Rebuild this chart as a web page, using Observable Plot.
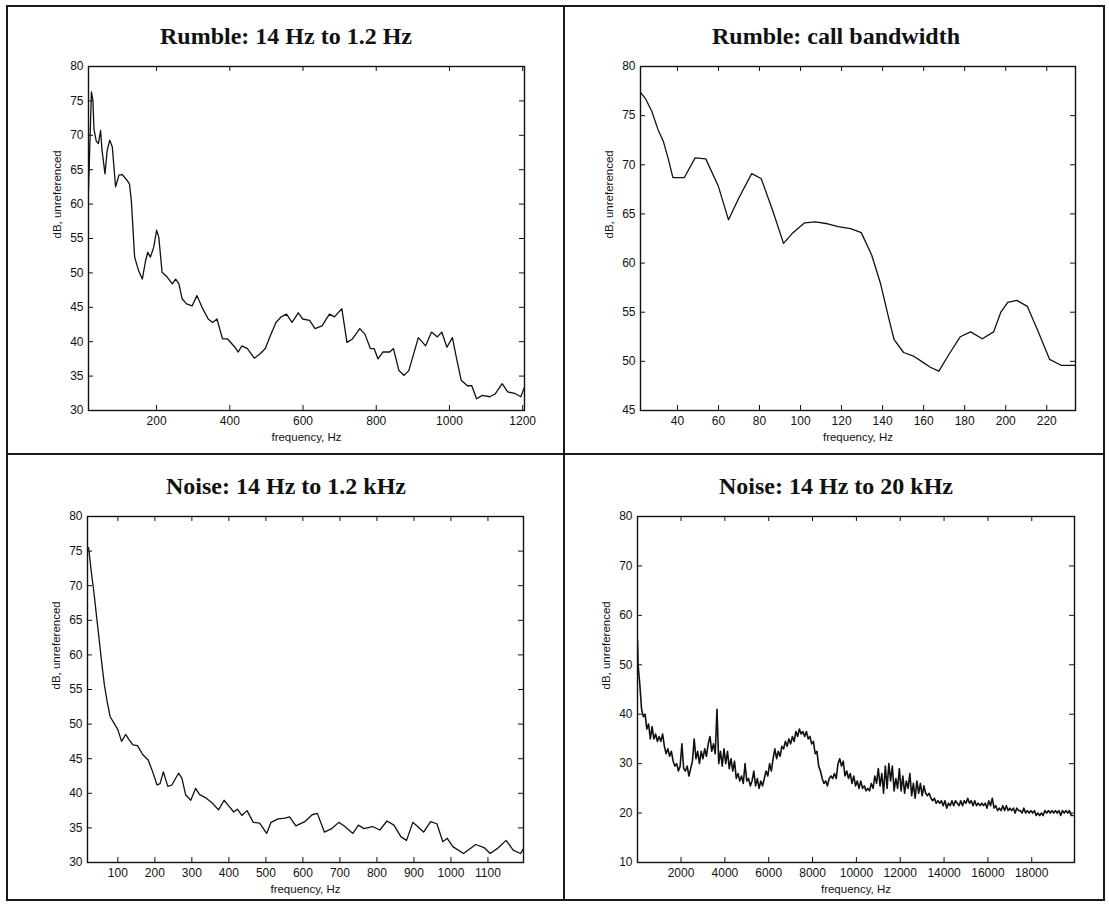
<!DOCTYPE html>
<html>
<head>
<meta charset="utf-8">
<script src="https://cdn.jsdelivr.net/npm/d3@7"></script>
<script src="https://cdn.jsdelivr.net/npm/@observablehq/plot@0.6"></script>
<style>
  html, body { margin: 0; padding: 0; background: #fff; }
  #root { position: relative; width: 1109px; height: 904px; background: #fff; overflow: hidden; }
  .cell { position: absolute; }
  .title { position: absolute; font-family: "Liberation Serif", "Times New Roman", serif; font-weight: bold; font-size: 24px; color: #111; text-align: center; white-space: nowrap; transform: translateX(-50%); line-height: 1; }
  .rule { position: absolute; background: #1a1a1a; }
</style>
</head>
<body>
<div id="root"></div>
<script>
// ---------- DATA ----------
const titles = ["Rumble: 14 Hz to 1.2 Hz", "Rumble: call bandwidth", "Noise: 14 Hz to 1.2 kHz", "Noise: 14 Hz to 20 kHz"];
const xAxisLabel = "frequency, Hz";
const yAxisLabel = "dB, unreferenced";

// Panel 1: Rumble 14 Hz to 1.2 kHz
const rumbleHz = [14, 22, 26, 29, 35, 41, 47, 51, 59, 65, 72, 79, 88, 97, 106, 120, 126, 131, 140, 151, 161, 170, 176, 183, 192, 200, 206, 215, 229, 243, 252, 261, 270, 282, 297, 310, 326, 341, 353, 365, 380, 394, 414, 423, 433, 448, 467, 482, 497, 511, 526, 540, 555, 570, 587, 599, 618, 633, 652, 672, 686, 706, 720, 735, 755, 769, 784, 794, 805, 818, 837, 847, 862, 876, 889, 915, 935, 951, 967, 979, 993, 1008, 1017, 1032, 1049, 1061, 1074, 1090, 1110, 1125, 1144, 1159, 1178, 1195, 1205];
const rumbleDb = [62, 76.3, 75.1, 70.9, 69.2, 68.8, 70.7, 67.8, 64.4, 67.8, 69.3, 68.3, 62.5, 64.2, 64.3, 63.4, 62.9, 60.5, 52.3, 50.3, 49.1, 51.8, 53, 52.3, 53.7, 56.2, 55.2, 50.1, 49.4, 48.4, 49.1, 48.4, 46.2, 45.5, 45.2, 46.7, 44.8, 43.3, 42.8, 43.3, 40.4, 40.4, 39.2, 38.5, 39.4, 39.0, 37.6, 38.2, 39.0, 40.9, 42.8, 43.6, 44.0, 42.8, 44.2, 43.3, 43.1, 41.9, 42.3, 44.0, 43.6, 44.8, 39.9, 40.4, 41.9, 41.1, 39.0, 39.0, 37.5, 38.5, 38.5, 39.0, 35.8, 35.1, 35.8, 40.6, 39.4, 41.4, 40.7, 41.4, 39.2, 40.6, 38.2, 34.4, 33.6, 33.6, 31.7, 32.2, 32.0, 32.4, 33.9, 32.7, 32.5, 32.0, 33.4];

// Panel 2: Rumble call bandwidth
const callHz = [22.3, 24.5, 27.4, 30.5, 33.1, 35.4, 37.8, 40, 43.4, 48.6, 53.8, 59.8, 64.9, 70.1, 76.2, 80.8, 86.5, 91.7, 95.9, 102, 107.2, 113.2, 118.3, 124.4, 129.6, 134.7, 139, 142.5, 145.6, 150.2, 155.4, 159.7, 163.2, 167.4, 172.6, 177.8, 182.9, 188.6, 194.1, 197.6, 201, 205.4, 210.5, 215.7, 221.4, 226.9, 233.8];
const callDb = [77.3, 76.7, 75.5, 73.6, 72.4, 70.7, 68.7, 68.7, 68.7, 70.7, 70.6, 67.9, 64.4, 66.7, 69.1, 68.6, 65.3, 62.0, 63.0, 64.1, 64.2, 64.0, 63.7, 63.5, 63.1, 60.8, 57.9, 54.8, 52.2, 50.9, 50.5, 49.9, 49.4, 49.0, 50.8, 52.5, 53.0, 52.3, 53.0, 55.0, 56.0, 56.2, 55.6, 53.1, 50.2, 49.6, 49.6];

// Panel 3: Noise 14 Hz to 1.2 kHz
const noiseHz = [21, 28, 35, 42, 50, 57, 63.5, 71, 79, 90, 100, 110, 121, 131, 140.5, 153, 167, 182, 194, 206, 214, 223, 235, 246, 264, 273, 283, 297, 310, 321, 339, 355, 372, 387, 398, 413, 423, 435, 449, 466, 483, 502, 514, 533, 552, 564, 581, 605, 625, 639, 658, 678, 697, 711, 735, 750, 765, 788, 808, 827, 846, 865, 880, 897, 910, 926, 945, 962, 978, 990, 1005, 1034, 1067, 1091, 1106, 1125, 1149, 1168, 1188, 1196];
const noiseDb = [75.5, 72.1, 69.2, 65.8, 62.0, 58.6, 55.7, 53.3, 51.1, 50.1, 49.2, 47.5, 48.5, 47.7, 47.0, 46.9, 45.6, 44.8, 43.1, 41.2, 41.4, 43.1, 41.0, 41.2, 42.9, 42.2, 39.8, 39.0, 40.7, 39.8, 39.3, 38.6, 37.6, 39.0, 38.3, 37.3, 37.7, 36.8, 37.5, 35.8, 35.7, 34.2, 35.8, 36.3, 36.4, 36.6, 35.3, 35.9, 36.9, 37.1, 34.4, 34.9, 35.8, 35.3, 34.2, 35.4, 34.9, 35.2, 34.7, 36.0, 35.4, 33.7, 33.2, 35.8, 35.2, 34.4, 35.9, 35.6, 33.0, 33.5, 32.3, 31.3, 32.6, 32.1, 31.3, 32.0, 33.2, 31.8, 31.3, 32.0];

// Panel 4: Noise 14 Hz to 20 kHz (first bin at 14 Hz, then bins every 80 Hz from 40 Hz)
const wideFirstHz = 14;
const wideBinStartHz = 40;
const wideBinStepHz = 80;
const wideDb = [55,
 50, 46, 41, 39.5, 40, 37, 38, 35, 37.5, 35, 36, 34.5, 35.5, 34.5, 36, 33.5, 32, 33, 31.5, 32.5,
 30.5, 29.5, 30, 28.5, 29.5, 34, 29, 28.5, 29.5, 27.5, 29, 30.5, 35, 31, 32.5, 30, 32.5, 31, 33, 31.5,
 34, 35.5, 32.5, 34, 32, 41, 30, 32.5, 29.5, 33, 30, 32.5, 29, 31, 28.5, 30.5, 27, 28, 26.5, 27.5,
 26, 30, 26.5, 27, 25.5, 26.5, 28.5, 25.5, 27, 25, 26.5, 25.5, 27, 28.5, 27.5, 30, 28.5, 31, 33, 31,
 32.5, 31.5, 33.5, 33, 34.5, 33.5, 35, 34, 35.5, 34.5, 36.5, 35.5, 37, 36, 36.5, 35.5, 36.5, 35, 35.5, 34,
 34.5, 32, 32.5, 29.5, 28.5, 27, 26, 26.5, 25.5, 27, 27.5, 27, 28, 27, 30, 31, 29.5, 30.5, 27.5, 28.5,
 27, 28, 26, 27.5, 25.5, 26.5, 25, 26.5, 25, 25.5, 24.5, 25, 24.5, 26, 25, 27.5, 26, 29, 25.5, 28,
 24, 29.5, 25, 30, 26.5, 29.5, 24.5, 27, 25, 29, 24.5, 27.5, 24, 26.5, 25, 28, 23.5, 26, 23, 26.5,
 24, 26, 23.5, 25.5, 24, 23.5, 24, 23, 22.5, 23, 22, 22.5, 22, 22.5, 21.5, 22.5, 21, 22, 21.5, 22.5,
 21.5, 22.5, 22, 21.5, 22.5, 21.5, 22.5, 22, 23, 22, 22.5, 21.5, 22.5, 21.5, 22, 21.5, 22, 21.5, 22, 21,
 22.5, 21.5, 23, 21, 21.5, 20.5, 21, 20.5, 21.5, 20.5, 21.5, 20.5, 21, 20.5, 21, 20, 21, 20.5, 20.5, 20,
 21, 20, 20.5, 20, 20.5, 20, 20.5, 19.5, 20, 19.5, 20, 19.5, 20.5, 20, 20.5, 20, 20.5, 20, 20.5, 20,
 20.5, 19.5, 20.5, 20, 20.5, 20, 20.5, 19.5, 19.5];

// Axis ticks
const ticksX1 = [200, 400, 600, 800, 1000, 1200];
const ticksY1 = [30, 35, 40, 45, 50, 55, 60, 65, 70, 75, 80];
const ticksX2 = [40, 60, 80, 100, 120, 140, 160, 180, 200, 220];
const ticksY2 = [45, 50, 55, 60, 65, 70, 75, 80];
const ticksX3 = [100, 200, 300, 400, 500, 600, 700, 800, 900, 1000, 1100];
const ticksY3 = [30, 35, 40, 45, 50, 55, 60, 65, 70, 75, 80];
const ticksX4 = [2000, 4000, 6000, 8000, 10000, 12000, 14000, 16000, 18000];
const ticksY4 = [10, 20, 30, 40, 50, 60, 70, 80];

// ---------- BUILD ----------
const toRows = (xs, ys) => xs.map((x, i) => ({f: x, db: ys[i]}));
const wideRows = wideDb.map((v, i) => ({f: i === 0 ? wideFirstHz : wideBinStartHz + (i - 1) * wideBinStepHz, db: v}));

const FONT = "'Liberation Sans', Arial, Helvetica, sans-serif";

function panel({rows, xDomain, yDomain, xTicks, yTicks, width, height, ml, mr, mt, mb, lineWidth}) {
  const innerW = width - ml - mr;
  const innerH = height - mt - mb;
  const tk = 5;
  return Plot.plot({
    width, height,
    marginLeft: ml, marginRight: mr, marginTop: mt, marginBottom: mb,
    style: {background: "transparent", overflow: "visible", fontFamily: FONT, color: "#111"},
    x: {domain: xDomain, label: null},
    y: {domain: yDomain, label: null},
    marks: [
      Plot.axisX(xTicks, {anchor: "bottom", tickSize: 0, tickPadding: 6, fontSize: 12, tickFormat: d => String(d), label: null, fill: "#111"}),
      Plot.axisY(yTicks, {anchor: "left", tickSize: 0, tickPadding: 5, fontSize: 12, tickFormat: d => String(d), label: null, fill: "#111"}),
      Plot.tickX(xTicks, {x: d => d, insetTop: innerH - tk, stroke: "#111", strokeWidth: 1}),
      Plot.tickX(xTicks, {x: d => d, insetBottom: innerH - tk, stroke: "#111", strokeWidth: 1}),
      Plot.tickY(yTicks, {y: d => d, insetRight: innerW - tk, stroke: "#111", strokeWidth: 1}),
      Plot.tickY(yTicks, {y: d => d, insetLeft: innerW - tk, stroke: "#111", strokeWidth: 1}),
      Plot.line(rows, {x: "f", y: "db", stroke: "#111", strokeWidth: lineWidth, clip: true}),
      Plot.frame({stroke: "#111", strokeWidth: 1.4}),
      Plot.text([xAxisLabel], {frameAnchor: "bottom", dy: 30, text: d => d, fontSize: 11.5, fill: "#111"}),
      Plot.text([yAxisLabel], {frameAnchor: "left", dx: -31, rotate: -90, text: d => d, fontSize: 11.5, fill: "#111"})
    ]
  });
}

const root = document.getElementById("root");
function place(node, left, top) {
  const d = document.createElement("div");
  d.className = "cell";
  d.style.left = left + "px";
  d.style.top = top + "px";
  d.appendChild(node);
  root.appendChild(d);
}
function title(text, cx, top) {
  const t = document.createElement("div");
  t.className = "title";
  t.textContent = text;
  t.style.left = cx + "px";
  t.style.top = top + "px";
  root.appendChild(t);
}

place(panel({rows: toRows(rumbleHz, rumbleDb), xDomain: [14, 1205], yDomain: [30, 80], xTicks: ticksX1, yTicks: ticksY1,
  width: 560, height: 400, ml: 88, mr: 36, mt: 16, mb: 40, lineWidth: 1.3}), 0, 50);
place(panel({rows: toRows(callHz, callDb), xDomain: [22, 234], yDomain: [45, 80], xTicks: ticksX2, yTicks: ticksY2,
  width: 540, height: 400, ml: 76, mr: 29, mt: 16, mb: 40, lineWidth: 1.3}), 564, 50);
place(panel({rows: toRows(noiseHz, noiseDb), xDomain: [18, 1196], yDomain: [30, 80], xTicks: ticksX3, yTicks: ticksY3,
  width: 560, height: 400, ml: 87, mr: 37, mt: 16, mb: 38, lineWidth: 1.3}), 0, 500);
place(panel({rows: wideRows, xDomain: [14, 19950], yDomain: [10, 80], xTicks: ticksX4, yTicks: ticksY4,
  width: 540, height: 400, ml: 73, mr: 30, mt: 16, mb: 38, lineWidth: 1.6}), 564, 500);

title(titles[0], 286, 24);
title(titles[1], 836, 24);
title(titles[2], 286, 474);
title(titles[3], 836, 474);

// table rules
const rules = [
  [6, 5, 1099, 2],   // top
  [6, 899, 1099, 2], // bottom
  [6, 5, 2, 896],    // left
  [1103, 5, 2, 896], // right
  [563, 5, 2, 896],  // vertical divider
  [6, 453, 1099, 2]  // horizontal divider
];
for (const [l, t, w, h] of rules) {
  const r = document.createElement("div");
  r.className = "rule";
  r.style.left = l + "px"; r.style.top = t + "px";
  r.style.width = w + "px"; r.style.height = h + "px";
  root.appendChild(r);
}
</script>
</body>
</html>
